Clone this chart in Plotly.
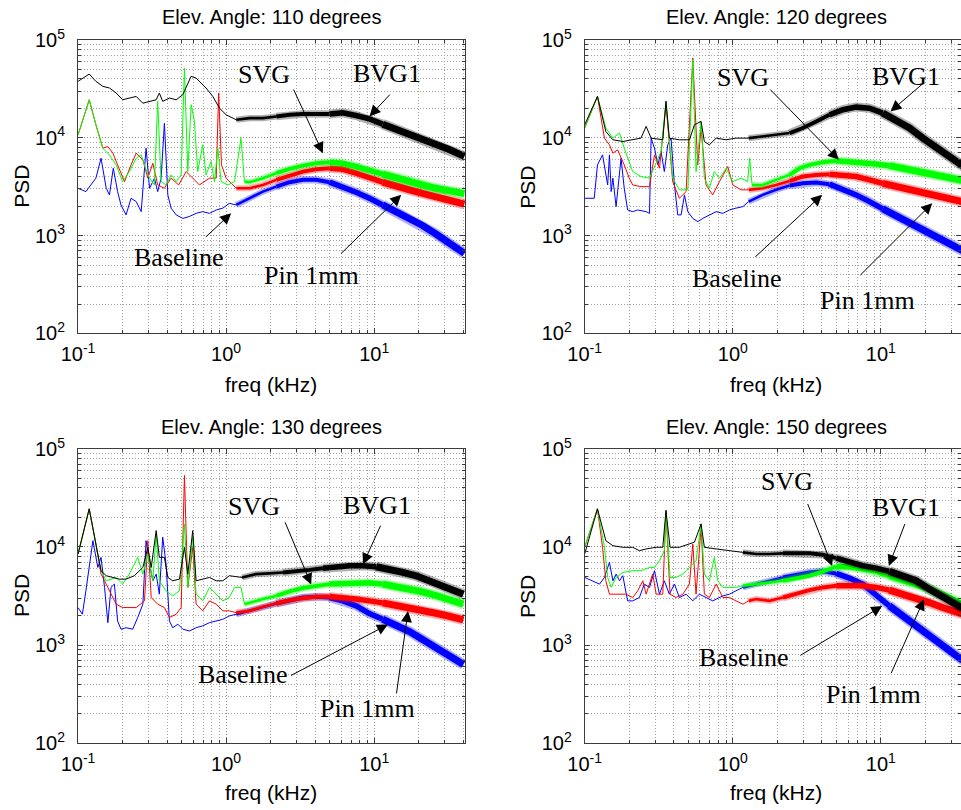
import plotly.graph_objects as go

# ---------------- data ----------------
ANGLES = [110, 120, 130, 150]
SERIES = ["Baseline", "Pin 1mm", "SVG", "BVG1"]
COLORS = {"Baseline": "#0000ff", "Pin 1mm": "#ff0000", "SVG": "#00ff00", "BVG1": "#000000"}

X_TICK_VALS = [0.1, 1, 10]
X_TICK_TEXT = ["10<sup>-1</sup>", "10<sup>0</sup>", "10<sup>1</sup>"]
Y_TICK_VALS = [100, 1000, 10000, 100000]
Y_TICK_TEXT = ["10<sup>2</sup>", "10<sup>3</sup>", "10<sup>4</sup>", "10<sup>5</sup>"]

# ---- Elev. angle 110 ----
F_BVG1_110 = [0.100, 0.1075, 0.119, 0.132, 0.147, 0.163, 0.181, 0.200, 0.222, 0.247, 0.274, 0.304, 0.337, 0.354, 0.373, 0.414, 0.460, 0.510, 0.537, 0.580, 0.627, 0.678, 0.732, 0.813, 0.902, 1.00, 1.17, 1.44, 1.77, 2.18, 2.68, 3.30, 4.06, 4.99, 6.13, 7.54, 9.28, 11.4, 14.0, 17.3, 21.2, 26.1, 32.1, 40.6]
P_BVG1_110 = [37800, 40800, 44900, 37800, 33600, 32300, 28700, 24500, 25500, 26500, 22600, 23600, 24500, 28700, 23600, 25500, 24500, 27600, 32300, 42500, 40800, 36300, 32300, 26500, 20100, 17200, 15300, 15900, 15900, 16500, 17200, 17500, 17500, 17500, 18000, 16900, 15600, 13800, 12300, 10700, 9500, 8480, 7580, 6460]
F_SVG_110 = [0.100, 0.119, 0.132, 0.147, 0.163, 0.181, 0.200, 0.222, 0.247, 0.267, 0.288, 0.304, 0.328, 0.345, 0.364, 0.393, 0.425, 0.460, 0.497, 0.523, 0.551, 0.580, 0.611, 0.643, 0.695, 0.732, 0.791, 0.834, 0.879, 0.925, 1.03, 1.14, 1.26, 1.33, 1.44, 1.77, 2.18, 2.68, 3.30, 4.06, 4.99, 6.13, 7.54, 9.28, 11.4, 14.0, 17.3, 21.2, 26.1, 32.1, 40.6]
P_SVG_110 = [10700, 24500, 13600, 7840, 6700, 5290, 3570, 4520, 6190, 6700, 4700, 3870, 3300, 23600, 3570, 3300, 4180, 3570, 4180, 51700, 4520, 21800, 14700, 4520, 8480, 4180, 5730, 3570, 7840, 3570, 3300, 3570, 9930, 3570, 3520, 3870, 4350, 4820, 5200, 5500, 5630, 5500, 5090, 4700, 4250, 3870, 3570, 3300, 3050, 2870, 2690]
F_PIN_110 = [0.100, 0.119, 0.132, 0.147, 0.159, 0.172, 0.185, 0.206, 0.228, 0.247, 0.274, 0.296, 0.320, 0.345, 0.383, 0.425, 0.478, 0.537, 0.595, 0.660, 0.772, 0.857, 0.890, 0.930, 1.00, 1.17, 1.44, 1.77, 2.18, 2.68, 3.30, 4.06, 4.99, 6.13, 7.54, 9.28, 11.4, 14.0, 17.3, 21.2, 26.1, 32.1, 40.6]
P_PIN_110 = [10700, 24500, 13600, 7840, 8150, 6970, 5290, 3570, 5290, 6970, 5960, 3870, 5500, 3300, 3050, 3870, 3300, 4520, 3870, 3300, 3870, 3870, 28700, 5290, 3870, 3050, 3050, 3300, 3720, 4120, 4520, 4770, 4890, 4770, 4350, 3870, 3520, 3170, 2940, 2710, 2510, 2290, 2100]
F_BASE_110 = [0.100, 0.113, 0.122, 0.132, 0.143, 0.155, 0.163, 0.173, 0.185, 0.195, 0.211, 0.228, 0.247, 0.267, 0.288, 0.304, 0.328, 0.345, 0.364, 0.383, 0.404, 0.425, 0.460, 0.510, 0.565, 0.627, 0.695, 0.772, 0.857, 0.950, 1.05, 1.17, 1.44, 1.77, 2.18, 2.68, 3.30, 4.06, 4.99, 6.13, 7.54, 9.28, 11.4, 14.0, 17.3, 21.2, 26.1, 32.1, 40.6]
P_BASE_110 = [3050, 2820, 3300, 3870, 6190, 3050, 2610, 4890, 2820, 2060, 1630, 2410, 2230, 1760, 7840, 3050, 3870, 2820, 3870, 14100, 2610, 1910, 1630, 1500, 1570, 1690, 1760, 1690, 1830, 1910, 2140, 2060, 2410, 2820, 3170, 3520, 3720, 3720, 3520, 3170, 2780, 2410, 2060, 1760, 1500, 1270, 1040, 835, 659]

# ---- Elev. angle 120 ----
F_BVG1_120 = [0.100, 0.122, 0.139, 0.155, 0.181, 0.211, 0.240, 0.260, 0.281, 0.337, 0.354, 0.373, 0.436, 0.510, 0.551, 0.611, 0.643, 0.695, 0.772, 0.902, 1.05, 1.28, 1.60, 1.96, 2.42, 2.97, 3.66, 4.50, 5.54, 6.81, 8.38, 10.3, 12.7, 15.6, 19.2, 23.7, 29.1, 35.0, 40.6]
P_BVG1_120 = [13600, 26500, 11600, 9550, 9170, 9550, 9930, 13100, 9930, 9550, 23600, 9930, 9550, 9550, 13600, 14700, 9170, 8480, 9930, 9550, 9930, 9930, 10300, 10700, 11200, 12600, 14700, 17200, 19400, 20600, 20100, 17900, 15300, 12600, 9930, 7840, 6440, 5290, 4520]
F_SVG_120 = [0.100, 0.122, 0.139, 0.155, 0.172, 0.185, 0.211, 0.240, 0.274, 0.328, 0.354, 0.393, 0.436, 0.497, 0.537, 0.565, 0.611, 0.643, 0.695, 0.751, 0.813, 0.902, 1.00, 1.14, 1.26, 1.30, 1.35, 1.59, 1.96, 2.42, 2.82, 3.30, 4.06, 4.99, 6.13, 7.54, 9.28, 11.4, 14.0, 17.3, 21.2, 26.1, 35.0, 40.6]
P_SVG_120 = [12600, 26500, 12600, 9930, 11200, 7840, 4520, 4020, 3870, 7250, 23600, 3870, 2940, 2940, 63000, 4520, 14700, 3870, 3050, 4520, 3870, 4890, 3570, 3870, 3570, 6190, 3300, 3300, 3720, 4180, 4890, 5290, 5630, 5840, 5730, 5630, 5400, 5190, 4890, 4660, 4420, 4180, 3720, 3520]
F_PIN_120 = [0.100, 0.122, 0.136, 0.147, 0.155, 0.167, 0.185, 0.200, 0.211, 0.240, 0.274, 0.296, 0.320, 0.354, 0.393, 0.436, 0.484, 0.537, 0.580, 0.611, 0.660, 0.732, 0.813, 0.857, 0.925, 1.00, 1.14, 1.28, 1.59, 1.96, 2.42, 2.97, 3.66, 4.50, 5.54, 6.81, 8.38, 10.3, 12.7, 15.6, 19.2, 23.7, 29.1, 35.0, 40.6]
P_PIN_120 = [12600, 26500, 9930, 8480, 6970, 7540, 5290, 3870, 3300, 3170, 3170, 6700, 4890, 21800, 3570, 2410, 2820, 65500, 5290, 12600, 3300, 2610, 3570, 4180, 5090, 3300, 2940, 2940, 3050, 3300, 3630, 4020, 4180, 4250, 4180, 4020, 3720, 3430, 3170, 2940, 2760, 2570, 2410, 2230, 2120]
F_BASE_120 = [0.100, 0.116, 0.122, 0.132, 0.143, 0.147, 0.151, 0.155, 0.163, 0.176, 0.185, 0.195, 0.211, 0.228, 0.260, 0.274, 0.281, 0.296, 0.312, 0.328, 0.345, 0.364, 0.383, 0.404, 0.425, 0.448, 0.472, 0.497, 0.537, 0.580, 0.627, 0.695, 0.772, 0.857, 0.950, 1.05, 1.17, 1.28, 1.59, 1.96, 2.42, 2.97, 3.66, 4.50, 5.54, 6.81, 8.38, 10.3, 12.7, 15.6, 19.2, 23.7, 29.1, 35.0, 40.6]
P_BASE_120 = [2410, 2410, 5290, 6700, 3300, 6700, 2820, 3870, 1980, 6190, 3050, 1830, 1760, 1830, 1760, 1690, 9930, 7840, 5290, 7250, 4520, 8480, 9930, 3300, 1630, 1630, 2610, 1760, 1500, 1390, 1500, 1630, 1760, 1690, 1830, 1910, 1980, 2230, 2610, 2940, 3250, 3430, 3490, 3360, 3000, 2610, 2230, 1880, 1600, 1340, 1130, 955, 815, 713, 634]

# ---- Elev. angle 130 ----
F_BVG1_130 = [0.100, 0.119, 0.132, 0.143, 0.155, 0.172, 0.190, 0.211, 0.240, 0.274, 0.296, 0.312, 0.337, 0.354, 0.383, 0.404, 0.436, 0.484, 0.523, 0.551, 0.595, 0.627, 0.695, 0.772, 0.857, 0.950, 1.05, 1.28, 1.59, 1.96, 2.42, 2.97, 3.66, 4.50, 5.54, 6.81, 8.38, 10.3, 12.7, 15.6, 19.2, 23.7, 29.1, 40.0]
P_BVG1_130 = [8480, 24500, 10700, 5730, 5090, 4890, 4700, 4700, 5090, 6190, 9930, 6190, 14700, 7840, 7840, 4890, 4520, 4700, 9930, 5290, 14700, 4520, 4700, 4890, 4520, 4520, 5090, 4890, 5290, 5380, 5500, 5730, 5840, 6080, 6290, 6440, 6440, 6290, 5960, 5500, 5090, 4520, 4020, 3300]
F_SVG_130 = [0.100, 0.119, 0.132, 0.143, 0.155, 0.181, 0.200, 0.222, 0.253, 0.274, 0.296, 0.320, 0.337, 0.354, 0.393, 0.436, 0.484, 0.523, 0.551, 0.595, 0.627, 0.695, 0.772, 0.857, 0.950, 1.05, 1.14, 1.26, 1.33, 1.44, 1.77, 2.18, 2.68, 3.30, 4.06, 4.99, 6.13, 7.54, 9.28, 11.4, 14.0, 17.3, 21.2, 26.1, 32.1, 40.0]
P_SVG_130 = [8480, 24500, 10700, 5730, 4520, 4890, 4180, 5290, 7840, 5290, 8480, 4520, 13600, 4520, 3570, 3170, 3570, 17200, 3870, 12600, 3300, 2820, 3870, 3300, 2820, 3050, 3870, 3870, 2610, 2710, 2940, 3170, 3520, 3810, 4020, 4180, 4250, 4320, 4320, 4180, 3990, 3750, 3490, 3200, 2910, 2610]
F_PIN_130 = [0.100, 0.119, 0.132, 0.143, 0.151, 0.163, 0.181, 0.200, 0.222, 0.247, 0.281, 0.296, 0.312, 0.345, 0.383, 0.414, 0.460, 0.497, 0.523, 0.551, 0.595, 0.627, 0.695, 0.772, 0.857, 0.950, 1.05, 1.17, 1.44, 1.77, 2.18, 2.68, 3.30, 4.06, 4.99, 6.13, 7.54, 9.28, 11.4, 14.0, 17.3, 21.2, 26.1, 32.1, 40.0]
P_PIN_130 = [8480, 24500, 10700, 5290, 4520, 3570, 2610, 2410, 2410, 2410, 2820, 11600, 3050, 2610, 2410, 1910, 2060, 2410, 53700, 3870, 9930, 2610, 2230, 2820, 2610, 2230, 2230, 2140, 2230, 2450, 2650, 2870, 3000, 3100, 3120, 3050, 2940, 2820, 2690, 2550, 2410, 2260, 2110, 1965, 1805]
F_BASE_130 = [0.100, 0.107, 0.113, 0.126, 0.136, 0.143, 0.151, 0.159, 0.167, 0.176, 0.185, 0.195, 0.211, 0.234, 0.253, 0.274, 0.288, 0.304, 0.320, 0.337, 0.354, 0.373, 0.393, 0.414, 0.436, 0.472, 0.510, 0.565, 0.627, 0.695, 0.772, 0.857, 0.950, 1.05, 1.17, 1.44, 1.77, 2.18, 2.68, 3.30, 4.06, 4.99, 6.13, 7.54, 9.28, 11.4, 14.0, 17.3, 21.2, 26.1, 32.1, 40.0]
P_BASE_130 = [2410, 2060, 3570, 11600, 6190, 7840, 3870, 1690, 3870, 4180, 1760, 1450, 1500, 1450, 1910, 2610, 11600, 6700, 4520, 5290, 3300, 12600, 6700, 1760, 1500, 1630, 1450, 1390, 1500, 1570, 1690, 1760, 1830, 1980, 2060, 2230, 2450, 2650, 2870, 3050, 3100, 3050, 2820, 2510, 2090, 1830, 1600, 1370, 1140, 940, 771, 634]

# ---- Elev. angle 150 ----
F_BVG1_150 = [0.100, 0.122, 0.139, 0.155, 0.181, 0.211, 0.234, 0.260, 0.304, 0.337, 0.354, 0.377, 0.436, 0.510, 0.551, 0.611, 0.643, 0.772, 0.950, 1.17, 1.44, 1.77, 2.18, 2.68, 3.30, 4.06, 4.99, 6.13, 7.54, 9.28, 11.4, 14.0, 17.3, 21.2, 26.1, 35.0, 40.6]
P_BVG1_150 = [8480, 24500, 11600, 10300, 9930, 9930, 9170, 9550, 9930, 9930, 23600, 9930, 9930, 10700, 11200, 17200, 9930, 9550, 9170, 8810, 8480, 8480, 8610, 8610, 8610, 8350, 7710, 6970, 6440, 6090, 5640, 5090, 4520, 3720, 3050, 2410, 2140]
F_SVG_150 = [0.100, 0.122, 0.136, 0.143, 0.151, 0.163, 0.181, 0.211, 0.240, 0.274, 0.296, 0.320, 0.345, 0.354, 0.377, 0.414, 0.460, 0.510, 0.565, 0.611, 0.643, 0.695, 0.751, 0.791, 0.857, 0.950, 1.05, 1.17, 1.44, 1.77, 2.18, 2.68, 3.30, 4.06, 4.99, 6.13, 7.54, 9.28, 11.4, 14.0, 17.3, 21.2, 26.1, 35.0, 40.6]
P_SVG_150 = [9930, 24500, 9930, 4890, 3870, 4890, 5500, 5730, 5730, 6190, 6190, 7250, 9170, 23600, 4890, 4890, 5290, 6190, 7250, 17200, 5290, 4520, 7840, 4520, 3870, 3870, 3870, 4020, 4180, 4350, 4520, 4820, 5090, 5640, 6290, 6290, 5960, 5640, 5090, 4700, 4180, 3720, 3170, 2610, 2410]
F_PIN_150 = [0.100, 0.122, 0.132, 0.139, 0.147, 0.163, 0.190, 0.211, 0.228, 0.247, 0.260, 0.288, 0.304, 0.337, 0.354, 0.377, 0.414, 0.460, 0.510, 0.537, 0.565, 0.611, 0.643, 0.695, 0.772, 0.857, 0.950, 1.05, 1.17, 1.28, 1.44, 1.77, 2.18, 2.68, 3.30, 4.06, 4.99, 6.13, 7.54, 9.28, 11.4, 14.0, 17.3, 21.2, 26.1, 35.0, 40.6]
P_PIN_150 = [9930, 24500, 9930, 4520, 3300, 3300, 3300, 3050, 3570, 4520, 3300, 5290, 3300, 3300, 23600, 3300, 3050, 3300, 4180, 10700, 3300, 15900, 3300, 3050, 4180, 3050, 3050, 2820, 2610, 2820, 2940, 2820, 3050, 3350, 3630, 3870, 4020, 4080, 4020, 3870, 3630, 3300, 3050, 2710, 2410, 2100, 1940]
F_BASE_150 = [0.100, 0.113, 0.126, 0.136, 0.147, 0.155, 0.163, 0.172, 0.181, 0.195, 0.211, 0.234, 0.253, 0.274, 0.296, 0.320, 0.345, 0.373, 0.404, 0.436, 0.484, 0.537, 0.595, 0.660, 0.732, 0.857, 0.950, 1.05, 1.17, 1.44, 1.77, 2.18, 2.68, 3.30, 4.06, 4.99, 6.13, 7.54, 9.28, 11.4, 14.0, 17.3, 21.2, 26.1, 35.0, 40.6]
P_BASE_150 = [4890, 4520, 4180, 4890, 6970, 4520, 5290, 4520, 5090, 2820, 2820, 3050, 4180, 3870, 5730, 3300, 4520, 3300, 4180, 3050, 3300, 2820, 3300, 3050, 2820, 3170, 3300, 3570, 3870, 4180, 4520, 4890, 5210, 5500, 5640, 5370, 4820, 4180, 3170, 2510, 1980, 1570, 1240, 955, 713, 634]

DATA = {
    110: {"Baseline": (F_BASE_110, P_BASE_110), "Pin 1mm": (F_PIN_110, P_PIN_110),
          "SVG": (F_SVG_110, P_SVG_110), "BVG1": (F_BVG1_110, P_BVG1_110)},
    120: {"Baseline": (F_BASE_120, P_BASE_120), "Pin 1mm": (F_PIN_120, P_PIN_120),
          "SVG": (F_SVG_120, P_SVG_120), "BVG1": (F_BVG1_120, P_BVG1_120)},
    130: {"Baseline": (F_BASE_130, P_BASE_130), "Pin 1mm": (F_PIN_130, P_PIN_130),
          "SVG": (F_SVG_130, P_SVG_130), "BVG1": (F_BVG1_130, P_BVG1_130)},
    150: {"Baseline": (F_BASE_150, P_BASE_150), "Pin 1mm": (F_PIN_150, P_PIN_150),
          "SVG": (F_SVG_150, P_SVG_150), "BVG1": (F_BVG1_150, P_BVG1_150)},
}
for a in ANGLES:
    for s in SERIES:
        f, p = DATA[a][s]
        assert len(f) == len(p), (a, s, len(f), len(p))

# ---------------- layout helpers ----------------
# label positions (log10 freq, log10 PSD) and arrows (tail -> head), per panel
LABEL_POS = {
    110: {"SVG": (0.257, 4.652), "BVG1": (1.086, 4.655), "Baseline": (-0.316, 2.779), "Pin 1mm": (0.574, 2.592)},
    120: {"SVG": (0.068, 4.621), "BVG1": (1.171, 4.628), "Baseline": (0.029, 2.564), "Pin 1mm": (0.907, 2.342)},
    130: {"SVG": (0.191, 4.410), "BVG1": (1.018, 4.421), "Baseline": (0.117, 2.697), "Pin 1mm": (0.957, 2.356)},
    150: {"SVG": (0.367, 4.669), "BVG1": (1.171, 4.403), "Baseline": (0.078, 2.868), "Pin 1mm": (0.953, 2.492)},
}
ARROW_POS = {
    110: [((0.451, 4.509), (0.653, 3.843)), ((1.115, 4.458), (0.968, 4.219)),
          ((-0.147, 2.973), (0.034, 3.229)), ((0.766, 2.802), (1.182, 3.417))],
    120: [((0.243, 4.509), (0.716, 3.775)), ((1.301, 4.577), (1.065, 4.270)),
          ((0.142, 2.769), (0.603, 3.417)), ((0.851, 2.581), (1.347, 3.332))],
    130: [((0.394, 4.267), (0.574, 3.618)), ((1.047, 4.232), (0.924, 3.823)),
          ((0.428, 2.681), (1.092, 3.209)), ((1.149, 2.492), (1.228, 3.346))],
    150: [((0.502, 4.454), (0.671, 3.807)), ((1.166, 4.250), (1.054, 3.807)),
          ((0.446, 2.885), (1.009, 3.397)), ((1.065, 2.697), (1.291, 3.468))],
}

X_DOMAINS = [[0.0812, 0.4839], [0.6084, 1.0], [0.0812, 0.4839], [0.6084, 1.0]]
Y_DOMAINS = [[0.5883, 0.9506], [0.5883, 0.9506], [0.0827, 0.4457], [0.0827, 0.4457]]
X_RANGES = [[-1, 1.613], [-1, 1.541], [-1, 1.613], [-1, 1.541]]
TITLE_XY = [(0.2820, 0.979), (0.8085, 0.979), (0.2820, 0.473), (0.8085, 0.473)]
XLAB_XY = [(0.2815, 0.5247), (0.8075, 0.5247), (0.2815, 0.021), (0.8075, 0.021)]
YLAB_XY = [(0.0229, 0.7694), (0.5494, 0.7694), (0.0229, 0.2642), (0.5494, 0.2642)]

# line width grows with frequency (dense spectral samples form a noisy band)
WIDTH_BANDS = [(0.0, 1.4, 1.0), (1.4, 2.5, 2.6), (2.5, 5.0, 4.0), (5.0, 12.0, 5.5), (12.0, 1e9, 7.0)]

SANS = "Liberation Sans, Arial, sans-serif"
SERIF = "Liberation Serif, Times New Roman, serif"

MINOR_X = [m * 10.0 ** e for e in (-1, 0, 1) for m in range(2, 10)]
MINOR_Y = [m * 10.0 ** e for e in (2, 3, 4) for m in range(2, 10)]


def pieces(f, p):
    for k, (lo, hi, w) in enumerate(WIDTH_BANDS):
        idx = [i for i, v in enumerate(f) if lo <= v < hi]
        if not idx:
            continue
        start = idx[0] if k == 0 else max(idx[0] - 1, 0)
        yield f[start:idx[-1] + 1], p[start:idx[-1] + 1], w


fig = go.Figure()
annotations = []

for i, ang in enumerate(ANGLES):
    xa = "x" if i == 0 else f"x{i + 1}"
    ya = "y" if i == 0 else f"y{i + 1}"
    for s in SERIES:
        f, p = DATA[ang][s]
        segs = list(pieces(f, p))
        # faint halo under the thick band (noise fuzz)
        for fs, ps, w in segs:
            if w > 2:
                fig.add_trace(go.Scatter(x=fs, y=ps, mode="lines", xaxis=xa, yaxis=ya,
                                         line=dict(color=COLORS[s], width=w + 3.5),
                                         opacity=0.3, showlegend=False, hoverinfo="skip"))
        for fs, ps, w in segs:
            fig.add_trace(go.Scatter(x=fs, y=ps, mode="lines", xaxis=xa, yaxis=ya,
                                     line=dict(color=COLORS[s], width=w),
                                     showlegend=False, hoverinfo="skip"))

    axis_common = dict(
        type="log", showline=True, linecolor="#3c3c3c", linewidth=1, mirror="allticks",
        ticks="inside", ticklen=5, tickcolor="#3c3c3c", automargin=False,
        showgrid=True, gridcolor="#8a8a8a", gridwidth=1, griddash="1px,2px",
        zeroline=False, tickfont=dict(family=SANS, size=20, color="black"),
    )
    xkey = "xaxis" if i == 0 else f"xaxis{i + 1}"
    ykey = "yaxis" if i == 0 else f"yaxis{i + 1}"
    fig.update_layout(**{
        xkey: dict(axis_common, domain=X_DOMAINS[i], range=X_RANGES[i], anchor=ya,
                   tickmode="array", tickvals=X_TICK_VALS, ticktext=X_TICK_TEXT,
                   ticklabelstandoff=3,
                   minor=dict(tickmode="array", tickvals=MINOR_X, ticks="inside", ticklen=3,
                              tickcolor="#3c3c3c", showgrid=True, gridcolor="#a4a4a4",
                              griddash="1px,2px", gridwidth=1)),
        ykey: dict(axis_common, domain=Y_DOMAINS[i], range=[2, 5], anchor=xa,
                   tickmode="array", tickvals=Y_TICK_VALS, ticktext=Y_TICK_TEXT,
                   ticklabelstandoff=8,
                   minor=dict(tickmode="array", tickvals=MINOR_Y, ticks="inside", ticklen=3,
                              tickcolor="#3c3c3c", showgrid=True, gridcolor="#a4a4a4",
                              griddash="1px,2px", gridwidth=1)),
    })

    # subplot title and axis titles
    tx, ty = TITLE_XY[i]
    annotations.append(dict(text=f"Elev. Angle: {ang} degrees", x=tx, y=ty, xref="paper", yref="paper",
                            showarrow=False, xanchor="center", yanchor="middle",
                            font=dict(family=SANS, size=20, color="black")))
    lx, ly = XLAB_XY[i]
    annotations.append(dict(text="freq (kHz)", x=lx, y=ly, xref="paper", yref="paper",
                            showarrow=False, xanchor="center", yanchor="middle",
                            font=dict(family=SANS, size=21, color="black")))
    px_, py_ = YLAB_XY[i]
    annotations.append(dict(text="PSD", x=px_, y=py_, xref="paper", yref="paper", textangle=-90,
                            showarrow=False, xanchor="center", yanchor="middle",
                            font=dict(family=SANS, size=21, color="black")))

    # curve labels
    for name, (lf, lp) in LABEL_POS[ang].items():
        annotations.append(dict(text=name, x=lf, y=lp, xref=xa, yref=ya, showarrow=False,
                                xanchor="center", yanchor="middle",
                                font=dict(family=SERIF, size=26, color="black")))
    for (tail, head) in ARROW_POS[ang]:
        annotations.append(dict(text="", x=head[0], y=head[1], xref=xa, yref=ya,
                                ax=tail[0], ay=tail[1], axref=xa, ayref=ya,
                                showarrow=True, arrowhead=2, arrowsize=2.2, arrowwidth=1,
                                arrowcolor="black", standoff=0, startstandoff=0))

fig.update_layout(
    template="none",
    width=961, height=810,
    margin=dict(l=0, r=0, t=0, b=0, autoexpand=False),
    paper_bgcolor="white", plot_bgcolor="white",
    showlegend=False,
    annotations=annotations,
)

fig.write_html("out.html")
